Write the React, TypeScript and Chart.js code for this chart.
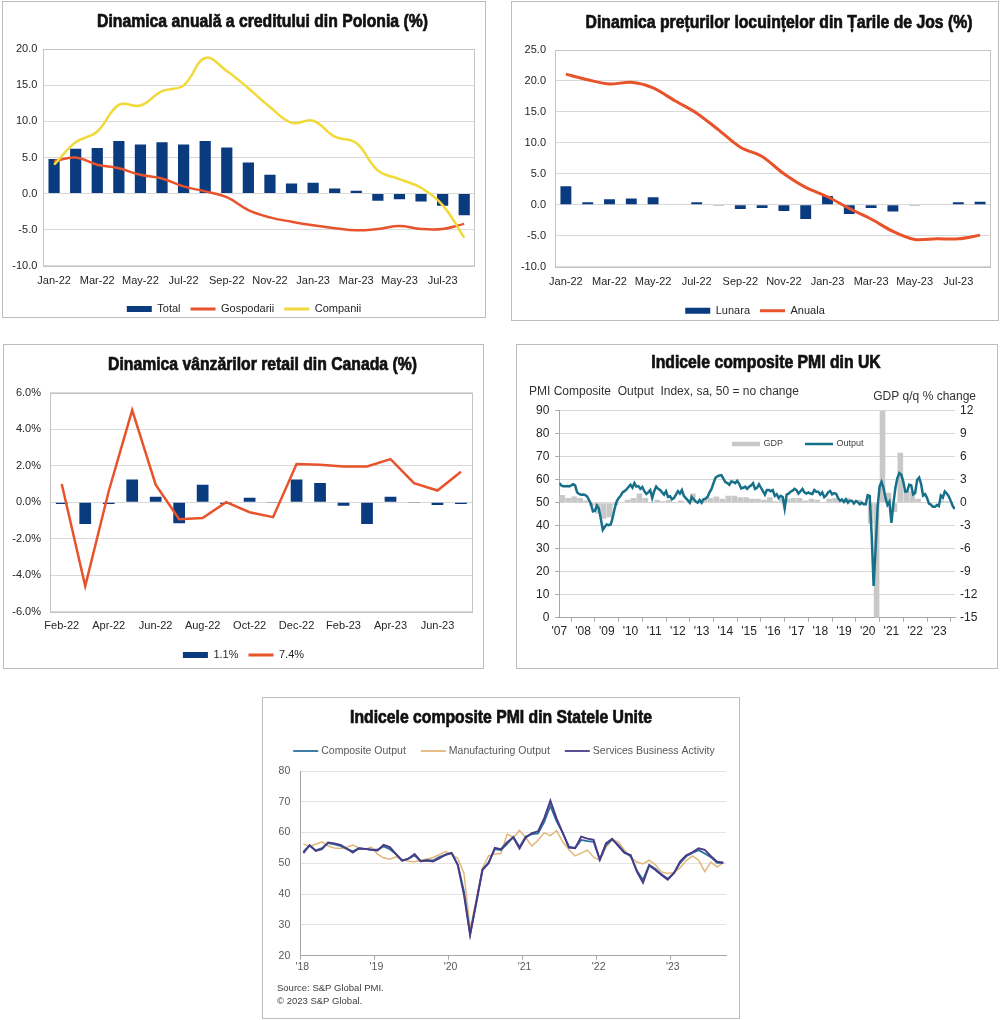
import React, { useEffect, useRef, useState } from 'react';
import { Chart, registerables } from 'chart.js';

Chart.register(...registerables);

const SANS = "'Liberation Sans', Arial, Helvetica, sans-serif";
const TITLE_SIZE = 18;
const TITLE_STRETCH = 0.875;

const NAVY = '#0b3b7f';
const RED = '#e8532b';
const YELLOW = '#f2d93a';
const TXT = '#262626';
const GRID = '#d9d9d9';
const FRAME = '#c4c4c4';

// ---------- Chart 1: Poland credit dynamics ----------
const polandTitle = 'Dinamica anuală a creditului din Polonia (%)';
const polandMonths = ['Jan-22', 'Feb-22', 'Mar-22', 'Apr-22', 'May-22', 'Jun-22', 'Jul-22', 'Aug-22', 'Sep-22', 'Oct-22', 'Nov-22', 'Dec-22', 'Jan-23', 'Feb-23', 'Mar-23', 'Apr-23', 'May-23', 'Jun-23', 'Jul-23', 'Aug-23'];
const polandTotal = [4.8, 6.2, 6.3, 7.3, 6.8, 7.1, 6.8, 7.3, 6.4, 4.3, 2.6, 1.4, 1.5, 0.7, 0.4, -1.0, -0.8, -1.1, -1.7, -3.0];
const polandHouseholds = [4.5, 5.0, 4.0, 3.5, 2.6, 2.1, 1.0, 0.3, -0.5, -2.3, -3.3, -3.9, -4.4, -4.8, -5.1, -4.9, -4.5, -4.9, -4.9, -4.2];
const polandCompanies = [4.0, 7.1, 8.6, 12.3, 12.2, 14.2, 15.0, 18.8, 17.0, 14.6, 12.0, 9.8, 10.1, 7.9, 7.0, 3.2, 2.0, 0.8, -1.6, -6.1];
const polandScale = { min: -10, max: 20, step: 5 };

// ---------- Chart 2: Netherlands house prices ----------
const nlTitle = 'Dinamica prețurilor locuințelor din Țarile de Jos (%)';
const nlMonths = ['Jan-22', 'Feb-22', 'Mar-22', 'Apr-22', 'May-22', 'Jun-22', 'Jul-22', 'Aug-22', 'Sep-22', 'Oct-22', 'Nov-22', 'Dec-22', 'Jan-23', 'Feb-23', 'Mar-23', 'Apr-23', 'May-23', 'Jun-23', 'Jul-23', 'Aug-23'];
const nlMonthly = [3.0, 0.4, 0.9, 1.0, 1.2, 0.0, 0.4, -0.1, -0.7, -0.5, -1.0, -2.3, 1.4, -1.5, -0.5, -1.1, -0.1, 0.1, 0.4, 0.5];
const nlAnnual = [21.1, 20.2, 19.5, 19.8, 18.9, 16.8, 14.8, 12.1, 9.3, 7.8, 5.0, 2.8, 1.3, -0.6, -2.3, -4.3, -5.6, -5.5, -5.5, -4.9];
const nlScale = { min: -10, max: 25, step: 5 };

// ---------- Chart 3: Canada retail sales ----------
const caTitle = 'Dinamica vânzărilor retail din Canada (%)';
const caMonths = ['Feb-22', 'Mar-22', 'Apr-22', 'May-22', 'Jun-22', 'Jul-22', 'Aug-22', 'Sep-22', 'Oct-22', 'Nov-22', 'Dec-22', 'Jan-23', 'Feb-23', 'Mar-23', 'Apr-23', 'May-23', 'Jun-23', 'Jul-23'];
const caMonthly = [-0.1, -1.2, -0.1, 1.25, 0.3, -1.15, 0.95, -0.1, 0.25, -0.05, 1.25, 1.05, -0.2, -1.2, 0.3, -0.02, -0.15, -0.1];
const caAnnual = [1.0, -4.6, 0.6, 5.05, 0.96, -0.93, -0.87, 0.0, -0.55, -0.82, 2.09, 2.05, 1.96, 1.96, 2.36, 1.04, 0.64, 1.67];
const caScale = { min: -6, max: 6, step: 2 };

// ---------- Chart 4: UK composite PMI (monthly from Jan 2007) and GDP q/q (quarterly from Q1 2007) ----------
const ukTitle = 'Indicele composite PMI din UK';
const ukLeftNote = 'PMI Composite  Output  Index, sa, 50 = no change';
const ukRightNote = 'GDP q/q % change';
const ukStartYear = 2007;
const ukPmiOutput = [
  58.5, 57.5, 57.2, 57.2, 57.3, 57.1, 57.5, 58.0, 57.5, 54.5, 53.8, 53.5,
  53.6, 53.4, 52.8, 51.2, 49.5, 46.2, 46.5, 48.8, 47.5, 43.0, 38.2, 39.5,
  40.5, 40.2, 40.5, 43.5, 47.5, 50.5, 52.0, 53.0, 54.5, 55.0, 55.8, 56.8,
  57.8, 56.5, 58.5, 57.0, 57.2, 56.0, 56.8, 55.0, 53.8, 54.5, 55.5, 52.0,
  55.0, 57.0, 56.0, 55.5, 54.5, 53.5, 55.0, 52.5, 52.8, 51.5, 52.0, 53.5,
  55.0, 54.0, 55.5, 53.0, 52.0, 51.0, 50.0, 52.5, 51.5, 50.5, 50.0, 51.2,
  50.0, 51.5, 51.8, 52.5, 54.5, 56.0, 58.5, 60.8, 61.5, 61.8, 62.0, 60.5,
  59.0, 58.5, 57.8, 59.2, 59.0, 58.5, 59.5, 58.2, 56.2, 56.5, 57.0, 56.0,
  57.0, 57.5, 58.5, 56.0, 56.5, 58.0, 56.5, 55.0, 53.5, 55.5, 55.5, 55.0,
  55.5, 53.0, 53.7, 52.0, 53.0, 52.5, 47.5, 53.5, 53.9, 54.8, 55.2, 56.0,
  55.5, 54.0, 55.0, 56.0, 54.5, 54.0, 54.5, 54.0, 53.8, 55.5, 54.8, 54.8,
  53.5, 54.5, 52.4, 53.2, 54.5, 55.1, 53.6, 54.2, 53.9, 52.1, 50.8, 51.4,
  50.3, 51.5, 50.0, 50.9, 50.9, 49.7, 50.7, 50.2, 49.3, 50.0, 49.3, 49.3,
  53.3, 53.0, 36.0, 13.8, 30.0, 47.7, 57.0, 59.1, 56.5, 52.1, 49.0, 50.4,
  41.2, 49.6, 56.4, 60.7, 62.9, 62.2, 59.2, 54.8, 54.9, 57.8, 57.6, 53.6,
  54.2, 59.9, 60.9, 58.2, 53.1, 53.7, 52.1, 49.6, 49.1, 48.2, 48.2, 49.0,
  48.5, 53.1, 52.2, 54.9, 54.0, 52.8, 50.8, 48.6, 47.2,
];
const ukGdpQoQ = [
  1.0, 0.6, 0.8, 0.6,
  0.3, -0.4, -1.4, -2.1,
  -1.9, -0.3, 0.1, 0.4,
  0.6, 1.2, 0.6, 0.1,
  0.4, 0.2, 0.4, 0.1,
  0.3, 0.0, 1.2, -0.1,
  0.6, 0.6, 0.8, 0.5,
  0.9, 0.9, 0.7, 0.7,
  0.5, 0.5, 0.4, 0.7,
  0.2, 0.5, 0.5, 0.6,
  0.6, 0.3, 0.5, 0.4,
  0.1, 0.5, 0.6, 0.3,
  0.6, -0.1, 0.4, 0.0,
  -2.7, -21.0, 16.9, 1.3,
  -1.2, 6.5, 1.7, 1.5,
  0.5, 0.1, -0.1, 0.1,
  0.3, 0.2,
];
const ukLeftScale = { min: 0, max: 90, step: 10 };
const ukRightScale = { min: -15, max: 12, step: 3 };
const ukYears = { min: 2007, max: 2023.68 };

// ---------- Chart 5: US PMIs (monthly from Jan 2018) ----------
const usTitle = 'Indicele composite PMI din Statele Unite';
const usStartYear = 2018;
const usComposite = [
  53.8, 55.8, 54.2, 54.9, 56.6, 56.2, 55.7, 54.7, 53.9, 54.9, 54.7, 54.4,
  54.4, 55.5, 54.6, 53.0, 50.9, 51.5, 52.6, 50.7, 51.0, 50.9, 52.0, 52.7,
  53.3, 49.6, 40.9, 27.0, 37.0, 47.9, 50.3, 54.6, 54.3, 56.3, 58.6, 55.3,
  58.7, 59.5, 59.7, 63.5, 68.7, 63.7, 59.9, 55.4, 55.0, 57.6, 57.2, 57.0,
  51.1, 55.9, 57.7, 56.0, 53.6, 52.3, 47.7, 44.6, 49.5, 48.2, 46.4, 45.0,
  46.8, 50.1, 52.3, 53.4, 54.3, 53.2, 52.0, 50.2, 50.2,
];
const usManufacturing = [
  56.3, 55.4, 56.2, 57.0, 55.6, 55.0, 54.8, 55.2, 55.9, 55.0, 54.6, 55.3,
  53.0, 51.8, 51.3, 52.1, 51.2, 50.7, 50.5, 51.0, 51.4, 51.9, 52.8, 53.8,
  53.0, 51.6, 46.8, 28.8, 38.0, 48.5, 52.4, 53.0, 53.2, 59.5, 58.4, 60.7,
  58.4, 55.6, 57.5, 59.9, 59.0, 60.6, 57.0, 54.5, 52.4, 53.3, 54.3, 52.0,
  51.0, 55.2, 57.6, 57.0, 54.3, 52.0, 50.4, 49.8, 51.0, 49.5, 47.2, 46.7,
  47.0, 48.5, 50.9, 52.4, 51.0, 47.3, 50.4, 48.8, 50.2,
];
const usServices = [
  53.3, 55.9, 54.0, 54.6, 56.8, 56.5, 56.0, 54.8, 53.5, 54.8, 54.7, 54.4,
  54.2, 56.0, 55.3, 53.0, 50.9, 51.5, 53.0, 50.7, 50.9, 50.6, 51.6, 52.8,
  53.4, 49.4, 39.8, 26.7, 37.5, 47.9, 50.0, 55.0, 54.6, 56.9, 58.4, 54.8,
  58.3, 59.8, 60.4, 64.7, 70.4, 64.6, 59.9, 55.1, 54.9, 58.7, 58.0, 57.6,
  51.2, 56.5, 58.0, 55.6, 53.4, 52.7, 47.3, 43.7, 49.3, 47.8, 46.2, 44.7,
  46.8, 50.6, 52.6, 53.6, 54.9, 54.4, 52.3, 50.5, 50.2,
];
const usScale = { min: 20, max: 80, step: 10 };
const usYears = { min: 2018, max: 2023.745 };
const usSource = ['Source: S&P Global PMI.', '\u00A9 2023 S&P Global.'];

// ---------- plugins ----------
function makeTitle(text: string, x: number, y: number) {
  return {
    id: 'condensedTitle',
    afterDraw(chart: any) {
      const { ctx } = chart;
      ctx.save();
      ctx.font = `bold ${TITLE_SIZE}px ${SANS}`;
      ctx.fillStyle = '#111';
      ctx.strokeStyle = '#111';
      ctx.lineWidth = 0.7;
      ctx.lineJoin = 'round';
      ctx.textAlign = 'center';
      ctx.textBaseline = 'middle';
      ctx.translate(x, y);
      ctx.scale(TITLE_STRETCH, 1);
      ctx.fillText(text, 0, 0);
      ctx.strokeText(text, 0, 0);
      ctx.restore();
    },
  };
}

function makeFrame(color: string) {
  return {
    id: 'frame',
    beforeDatasetsDraw(chart: any) {
      const { ctx, chartArea: a } = chart;
      ctx.save();
      ctx.strokeStyle = color;
      ctx.lineWidth = 1;
      const l = Math.round(a.left) + 0.5;
      const t = Math.round(a.top) + 0.5;
      const r = Math.round(a.right) - 0.5;
      const b = Math.round(a.bottom) + 0.5;
      ctx.strokeRect(l, t, r - l, b - t);
      ctx.restore();
    },
  };
}

function makeNotes(items: any[]) {
  return {
    id: 'notes',
    afterDraw(chart: any) {
      const { ctx } = chart;
      items.forEach((it) => {
        ctx.save();
        ctx.font = it.font;
        ctx.fillStyle = it.color;
        ctx.textAlign = it.align;
        ctx.textBaseline = 'middle';
        ctx.fillText(it.text, it.x, it.y);
        ctx.restore();
      });
    },
  };
}

function makeLegend(cfg: any) {
  return {
    id: 'ownLegend',
    afterDraw(chart: any) {
      const { ctx } = chart;
      ctx.save();
      ctx.font = cfg.font;
      ctx.textBaseline = 'middle';
      ctx.textAlign = 'left';
      const items = cfg.order.map((i: number) => {
        const ds = chart.data.datasets[i];
        const isBar = (ds.type || chart.config.type) === 'bar';
        return { text: ds.label, color: isBar ? ds.backgroundColor : ds.borderColor, isBar };
      });
      const widths = items.map((it: any) => cfg.symbolWidth + cfg.textGap + ctx.measureText(it.text).width);
      const total = widths.reduce((s: number, w: number) => s + w, 0) + cfg.spacing * (items.length - 1);
      let x = cfg.center ? cfg.x - total / 2 : cfg.x;
      items.forEach((it: any, i: number) => {
        const th = cfg.thickness[i];
        if (it.isBar) {
          ctx.fillStyle = it.color;
          ctx.fillRect(x, cfg.y - th / 2, cfg.symbolWidth, th);
        } else {
          ctx.strokeStyle = it.color;
          ctx.lineWidth = th;
          ctx.beginPath();
          ctx.moveTo(x, cfg.y);
          ctx.lineTo(x + cfg.symbolWidth, cfg.y);
          ctx.stroke();
        }
        ctx.fillStyle = cfg.color;
        ctx.fillText(it.text, x + cfg.symbolWidth + cfg.textGap, cfg.y);
        x += widths[i] + cfg.spacing;
      });
      ctx.restore();
    },
  };
}

function excelOptions(c: any) {
  const tickFont = { family: SANS, size: 11 };
  return {
    animation: false,
    responsive: true,
    maintainAspectRatio: false,
    layout: { padding: { left: 0, right: 0, top: c.top, bottom: c.padBottom } },
    scales: {
      x: {
        grid: { display: false, drawTicks: false },
        border: { display: false },
        ticks: {
          autoSkip: false, maxRotation: 0, minRotation: 0, padding: c.xPad, color: TXT, font: tickFont,
          callback: (_v: any, i: number) => (i % 2 === 0 ? c.xLabels[i] : ''),
        },
        afterFit: (s: any) => { s.height = c.xHeight; },
      },
      y: {
        type: 'linear',
        min: c.scale.min, max: c.scale.max,
        ticks: { stepSize: c.scale.step, padding: c.yPad, color: TXT, font: tickFont, callback: (v: any) => c.fmt(Number(v)) },
        grid: { color: GRID, drawTicks: false },
        border: { display: false },
        afterFit: (s: any) => { s.width = c.yWidth; },
      },
      yR: {
        type: 'linear',
        position: 'right',
        grid: { display: false, drawTicks: false },
        ticks: { display: false },
        border: { display: false },
        afterFit: (s: any) => { s.width = c.rightGap; },
      },
    },
    plugins: {
      title: { display: false },
      legend: {
        position: 'bottom',
        align: 'center',
        labels: {
          usePointStyle: true, pointStyleWidth: 25, boxHeight: 6, padding: 10, color: TXT,
          font: { family: SANS, size: 11 },
          generateLabels: (chart: any) => {
            const items = (Chart.defaults.plugins.legend.labels as any).generateLabels(chart);
            return items
              .map((it: any) => {
                const ds = chart.data.datasets[it.datasetIndex];
                const isBar = (ds.type || chart.config.type) === 'bar';
                return {
                  ...it,
                  pointStyle: isBar ? 'rect' : 'line',
                  lineWidth: isBar ? 0 : 3,
                  fillStyle: isBar ? ds.backgroundColor : ds.borderColor,
                  strokeStyle: ds.borderColor || ds.backgroundColor,
                };
              })
              .sort((a: any, b: any) => a.datasetIndex - b.datasetIndex);
          },
        },
      },
      tooltip: { enabled: false },
    },
  };
}

const fmt1 = (v: number) => v.toFixed(1);
const fmtPct = (v: number) => v.toFixed(1) + '%';

function makePoland() {
  return {
    type: 'bar',
    data: {
      labels: polandMonths,
      datasets: [
        { type: 'bar', label: 'Total', data: polandTotal, backgroundColor: NAVY, borderWidth: 0, barPercentage: 0.52, categoryPercentage: 1, order: 3 },
        { type: 'line', label: 'Gospodarii', data: polandHouseholds, borderColor: RED, backgroundColor: RED, borderWidth: 2.5, pointRadius: 0, tension: 0.4, order: 2 },
        { type: 'line', label: 'Companii', data: polandCompanies, borderColor: YELLOW, backgroundColor: YELLOW, borderWidth: 2.5, pointRadius: 0, tension: 0.4, order: 1 },
      ],
    },
    options: excelOptions({
      top: 47.3, padBottom: -7.5,
      scale: polandScale, fmt: fmt1, yWidth: 40.3, yPad: 6, rightGap: 10, xHeight: 27.8, xPad: 8.7, xLabels: polandMonths,
    }),
    plugins: [makeFrame(FRAME), makeTitle(polandTitle, 259.5, 20)],
  };
}

function makeNetherlands() {
  return {
    type: 'bar',
    data: {
      labels: nlMonths,
      datasets: [
        { type: 'bar', label: 'Lunara', data: nlMonthly, backgroundColor: NAVY, borderWidth: 0, barPercentage: 0.5, categoryPercentage: 1, order: 2 },
        { type: 'line', label: 'Anuala', data: nlAnnual, borderColor: RED, backgroundColor: RED, borderWidth: 3, pointRadius: 0, tension: 0.3, order: 1 },
      ],
    },
    options: excelOptions({
      top: 48, padBottom: -6.2,
      scale: nlScale, fmt: fmt1, yWidth: 43, yPad: 9, rightGap: 7, xHeight: 28.5, xPad: 8.4, xLabels: nlMonths,
    }),
    plugins: [makeFrame(FRAME), makeTitle(nlTitle, 267, 20.8)],
  };
}

function makeCanada() {
  return {
    type: 'bar',
    data: {
      labels: caMonths,
      datasets: [
        { type: 'bar', label: '1.1%', data: caMonthly, backgroundColor: NAVY, borderWidth: 0, barPercentage: 0.5, categoryPercentage: 1, order: 2 },
        { type: 'line', label: '7.4%', data: caAnnual, borderColor: RED, backgroundColor: RED, borderWidth: 2.5, pointRadius: 0, tension: 0, order: 1 },
      ],
    },
    options: excelOptions({
      top: 47.7, padBottom: -2.5,
      scale: caScale, fmt: fmtPct, yWidth: 46, yPad: 9, rightGap: 10.3, xHeight: 27.8, xPad: 7.7, xLabels: caMonths,
    }),
    plugins: [makeFrame(FRAME), makeTitle(caTitle, 258.5, 19.7)],
  };
}

const yearLabel = (v: any) => "'" + String(Math.round(Number(v))).slice(2);

function makeUK() {
  const teal = '#17708a';
  const gray = '#c8c8c8';
  const axis = '#a6a6a6';
  const tickFont = { family: SANS, size: 12 };
  return {
    type: 'line',
    data: {
      datasets: [
        {
          type: 'line', label: 'Output', yAxisID: 'y',
          data: ukPmiOutput.map((v, i) => ({ x: ukStartYear + i / 12, y: v })),
          borderColor: teal, backgroundColor: teal, borderWidth: 2.5, pointRadius: 0, tension: 0, order: 1,
        },
        {
          type: 'bar', label: 'GDP', yAxisID: 'y1',
          data: ukGdpQoQ.map((v, q) => ({ x: ukStartYear + (3 * q + 1.5) / 12, y: v })),
          backgroundColor: gray, borderWidth: 0, barPercentage: 0.95, categoryPercentage: 1, order: 2,
        },
      ],
    },
    options: {
      animation: false,
      responsive: true,
      maintainAspectRatio: false,
      layout: { padding: { left: 0, right: 0, top: 65.7, bottom: 20 } },
      scales: {
        x: {
          type: 'linear', min: ukYears.min, max: ukYears.max, offset: false,
          ticks: { stepSize: 1, includeBounds: false, autoSkip: false, maxRotation: 0, padding: 3, color: TXT, font: tickFont, callback: yearLabel },
          grid: { display: true, drawOnChartArea: false, drawTicks: true, tickLength: 4, tickColor: axis },
          border: { display: true, color: axis },
          afterFit: (s: any) => { s.height = 30.3; },
        },
        y: {
          type: 'linear', position: 'left', min: ukLeftScale.min, max: ukLeftScale.max,
          ticks: { stepSize: ukLeftScale.step, padding: 6, color: TXT, font: tickFont },
          grid: { color: GRID, tickColor: axis, tickLength: 4 },
          border: { display: true, color: axis },
          afterFit: (s: any) => { s.width = 42.3; },
        },
        y1: {
          type: 'linear', position: 'right', min: ukRightScale.min, max: ukRightScale.max,
          ticks: { stepSize: ukRightScale.step, padding: 5, color: TXT, font: tickFont },
          grid: { drawOnChartArea: false, drawTicks: false },
          border: { display: false },
          afterFit: (s: any) => { s.width = 42; },
        },
      },
      plugins: {
        title: { display: false },
        legend: { display: false },
        tooltip: { enabled: false },
      },
    },
    plugins: [
      makeTitle(ukTitle, 249, 18),
      makeNotes([
        { text: ukLeftNote, x: 12, y: 46.7, align: 'left', font: `12px ${SANS}`, color: '#333' },
        { text: ukRightNote, x: 459, y: 51.7, align: 'right', font: `12px ${SANS}`, color: '#333' },
      ]),
      makeLegend({ order: [1, 0], x: 215, y: 99, center: false, symbolWidth: 28, textGap: 3.5, spacing: 22, font: `9px ${SANS}`, color: '#404040', thickness: [4.5, 2.5] }),
    ],
  };
}

function makeUS() {
  const composite = '#2b6f9c';
  const manuf = '#e2b679';
  const services = '#4a3a86';
  const axis = '#a6a6a6';
  const grey = '#595959';
  const toPts = (arr: number[]) => arr.map((v, i) => ({ x: usStartYear + (i + 0.5) / 12, y: v }));
  return {
    type: 'line',
    data: {
      datasets: [
        { label: 'Composite Output', data: toPts(usComposite), borderColor: composite, backgroundColor: composite, borderWidth: 1.9, pointRadius: 0, tension: 0, order: 2 },
        { label: 'Manufacturing Output', data: toPts(usManufacturing), borderColor: manuf, backgroundColor: manuf, borderWidth: 1.5, pointRadius: 0, tension: 0, order: 3 },
        { label: 'Services Business Activity', data: toPts(usServices), borderColor: services, backgroundColor: services, borderWidth: 1.9, pointRadius: 0, tension: 0, order: 1 },
      ],
    },
    options: {
      animation: false,
      responsive: true,
      maintainAspectRatio: false,
      layout: { padding: { left: 14, right: 13, top: 73, bottom: 0 } },
      scales: {
        x: {
          type: 'linear', min: usYears.min, max: usYears.max, offset: false,
          ticks: { stepSize: 1, includeBounds: false, autoSkip: false, maxRotation: 0, padding: 1, labelOffset: 2, color: grey, font: { family: SANS, size: 10.5 }, callback: yearLabel },
          grid: { display: true, drawOnChartArea: false, drawTicks: true, tickLength: 4, tickColor: axis },
          border: { display: true, color: axis },
          afterFit: (s: any) => { s.height = 26.25; },
        },
        y: {
          type: 'linear', min: usScale.min, max: usScale.max,
          ticks: { stepSize: usScale.step, padding: 10, color: grey, font: { family: SANS, size: 10.5 } },
          grid: { color: '#e3e3e3', drawTicks: false },
          border: { display: true, color: axis },
          afterFit: (s: any) => { s.width = 23.3; },
        },
      },
      plugins: {
        title: { display: false },
        subtitle: {
          display: true, position: 'bottom', align: 'start', text: usSource, color: '#404040',
          font: { family: SANS, size: 9.5, lineHeight: 1.34 },
          padding: { top: 0, bottom: 10.65 },
        },
        legend: { display: false },
        tooltip: { enabled: false },
      },
    },
    plugins: [
      makeTitle(usTitle, 238, 19.7),
      makeLegend({ order: [0, 1, 2], x: 241, y: 53, center: true, symbolWidth: 25, textGap: 3, spacing: 15, font: `10.5px ${SANS}`, color: grey, thickness: [1.8, 1.8, 1.8] }),
    ],
  };
}

function Panel({ left, top, width, height, make }: any) {
  const ref = useRef<HTMLCanvasElement | null>(null);
  const [err, setErr] = useState('');
  useEffect(() => {
    if (!ref.current) return;
    let chart: any = null;
    try {
      chart = new Chart(ref.current, make());
    } catch (e: any) {
      setErr(String(e && e.stack ? e.stack : e));
    }
    return () => { if (chart) chart.destroy(); };
  }, [make]);
  return (
    <div
      style={{
        position: 'absolute', left, top, width, height, boxSizing: 'border-box',
        border: '1px solid #bdbdbd', background: '#fff',
      }}
    >
      <div style={{ position: 'relative', width: width - 2, height: height - 2 }}>
        <canvas ref={ref} />
      </div>
      {err ? <div style={{ position: 'absolute', left: 0, top: 0, fontSize: 9, color: 'red', fontFamily: SANS, whiteSpace: 'pre-wrap' }}>{err}</div> : null}
    </div>
  );
}

export default function App() {
  return (
    <div>
      <Panel left={2} top={1} width={484} height={317} make={makePoland} />
      <Panel left={511} top={1} width={488} height={320} make={makeNetherlands} />
      <Panel left={3} top={344} width={481} height={325} make={makeCanada} />
      <Panel left={516} top={344} width={482} height={325} make={makeUK} />
      <Panel left={262} top={697} width={478} height={322} make={makeUS} />
    </div>
  );
}
